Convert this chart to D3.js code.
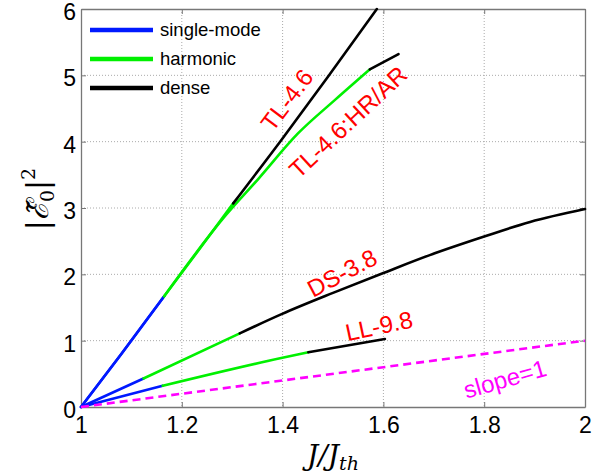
<!DOCTYPE html>
<html>
<head>
<meta charset="utf-8">
<script src="https://cdn.jsdelivr.net/npm/d3@7"></script>
<style>
	body { margin: 0; background: #fff; }
	svg { display: block; }
</style>
</head>
<body>
<svg id="chart" width="592" height="476"></svg>
<script>
// x ticks / y ticks
const xTicks = [1, 1.2, 1.4, 1.6, 1.8, 2];
const yTicks = [0, 1, 2, 3, 4, 5, 6];

// TL-4.6
const tlSingle = [[1, 0], [1.08, 0.8], [1.165, 1.67]];
const tlHarmonic = [[1.165, 1.67], [1.23, 2.33], [1.302, 3.07]];
const tlDense = [[1.302, 3.07], [1.398, 4.03], [1.49, 4.98], [1.587, 6.0]];

// TL-4.6:HR/AR
const hrSingle = [[1, 0], [1.08, 0.8], [1.165, 1.67]];
const hrHarmonic = [[1.165, 1.67], [1.286, 2.88], [1.352, 3.44], [1.43, 4.12], [1.504, 4.63], [1.573, 5.09]];
const hrDense = [[1.573, 5.09], [1.63, 5.32]];

// DS-3.8
const dsSingle = [[1, 0], [1.124, 0.43]];
const dsHarmonic = [[1.124, 0.43], [1.315, 1.11]];
const dsDense = [[1.315, 1.11], [1.398, 1.40], [1.5, 1.72], [1.6, 2.02], [1.692, 2.29], [1.8, 2.57], [1.891, 2.79], [2.0, 2.985]];

// LL-9.8
const llSingle = [[1, 0], [1.162, 0.32]];
const llHarmonic = [[1.162, 0.32], [1.395, 0.735], [1.451, 0.825]];
const llDense = [[1.451, 0.825], [1.603, 1.025]];

// slope=1 reference
const slopeOne = [[1, 0], [2, 1]];

const legendNames = ["single-mode", "harmonic", "dense"];

const COLORS = { single: "#0019ff", harmonic: "#00f000", dense: "#000" };

const svg = d3.select("#chart");
const M = { left: 81, right: 585, top: 9, bottom: 407 };

const x = d3.scaleLinear().domain([1, 2]).range([M.left, M.right]);
const y = d3.scaleLinear().domain([0, 6]).range([M.bottom, M.top]);

// grid
const grid = svg.append("g");
grid.selectAll(".gx").data(xTicks.slice(1, -1)).enter().append("line")
	.attr("x1", d => x(d)).attr("x2", d => x(d))
	.attr("y1", M.top).attr("y2", M.bottom)
	.attr("stroke", "#aaa").attr("stroke-width", 1).attr("stroke-dasharray", "1,2");
grid.selectAll(".gy").data(yTicks.slice(1, -1)).enter().append("line")
	.attr("y1", d => y(d)).attr("y2", d => y(d))
	.attr("x1", M.left).attr("x2", M.right)
	.attr("stroke", "#aaa").attr("stroke-width", 1).attr("stroke-dasharray", "1,2");

// axes (ticks inward)
const axFont = "'Liberation Sans', Arial, sans-serif";
const axBottom = svg.append("g").attr("transform", `translate(0,${M.bottom})`)
	.call(d3.axisBottom(x).tickValues(xTicks).tickFormat(d3.format("")).tickSizeInner(-5).tickSizeOuter(0).tickPadding(10));
const axLeft = svg.append("g").attr("transform", `translate(${M.left},0)`)
	.call(d3.axisLeft(y).tickValues(yTicks).tickFormat(d3.format("")).tickSizeInner(-5).tickSizeOuter(0).tickPadding(5));
const axTop = svg.append("g").attr("transform", `translate(0,${M.top})`)
	.call(d3.axisTop(x).tickValues(xTicks).tickFormat("").tickSizeInner(-5).tickSizeOuter(0));
const axRight = svg.append("g").attr("transform", `translate(${M.right},0)`)
	.call(d3.axisRight(y).tickValues(yTicks).tickFormat("").tickSizeInner(-5).tickSizeOuter(0));
[axBottom, axLeft, axTop, axRight].forEach(g => {
	g.select(".domain").attr("stroke", "#777").attr("stroke-width", 1.3);
	g.selectAll(".tick line").attr("stroke", "#777");
	g.selectAll("text").attr("font-family", axFont).attr("font-size", 23).attr("fill", "#000");
});
axBottom.selectAll("text").attr("dy", "0.71em");
axLeft.selectAll("text").attr("dy", "0.45em");

// curves
const line = d3.line().x(d => x(d[0])).y(d => y(d[1])).curve(d3.curveMonotoneX);
const curves = [
	[tlSingle, "single"], [hrSingle, "single"], [dsSingle, "single"], [llSingle, "single"],
	[tlHarmonic, "harmonic"], [hrHarmonic, "harmonic"], [dsHarmonic, "harmonic"], [llHarmonic, "harmonic"],
	[tlDense, "dense"], [hrDense, "dense"], [dsDense, "dense"], [llDense, "dense"]
];
const cg = svg.append("g");
cg.selectAll("path").data(curves).enter().append("path")
	.attr("d", d => line(d[0]))
	.attr("fill", "none")
	.attr("stroke", d => COLORS[d[1]])
	.attr("stroke-width", 2.6)
	.attr("stroke-linecap", "round");

cg.append("path").attr("d", d3.line().x(d => x(d[0])).y(d => y(d[1]))(slopeOne))
	.attr("fill", "none").attr("stroke", "#ff00ff")
	.attr("stroke-width", 2.6).attr("stroke-dasharray", "8,5");

// legend
const lg = svg.append("g");
const lkeys = ["single", "harmonic", "dense"];
legendNames.forEach((name, i) => {
	const ly = 30 + i * 29;
	lg.append("line").attr("x1", 90).attr("x2", 153).attr("y1", ly).attr("y2", ly)
		.attr("stroke", COLORS[lkeys[i]]).attr("stroke-width", 4.5);
	lg.append("text").attr("x", 160).attr("y", ly).attr("dy", "0.35em")
		.attr("font-family", axFont).attr("font-size", 18.5).text(name);
});

// annotations
const notes = [
	{ t: "TL-4.6", cx: 287, cy: 100, r: -53, c: "#ff0000" },
	{ t: "TL-4.6:HR/AR", cx: 348, cy: 122, r: -43, c: "#ff0000" },
	{ t: "DS-3.8", cx: 342, cy: 273, r: -28, c: "#ff0000" },
	{ t: "LL-9.8", cx: 379, cy: 326, r: -12, c: "#ff0000" },
	{ t: "slope=1", cx: 505, cy: 379, r: -16, c: "#ff00ff" }
];
svg.append("g").selectAll("text").data(notes).enter().append("text")
	.attr("transform", d => `translate(${d.cx},${d.cy}) rotate(${d.r})`)
	.attr("text-anchor", "middle").attr("dy", "0.35em")
	.attr("font-family", axFont).attr("font-size", 24)
	.attr("fill", d => d.c).text(d => d.t);

// axis labels
const xl = svg.append("text").attr("x", 333).attr("y", 465).attr("text-anchor", "middle")
	.attr("font-family", "'DejaVu Serif', 'Liberation Serif', serif").attr("font-style", "italic").attr("font-size", 28);
xl.append("tspan").text("J/J");
xl.append("tspan").attr("font-size", 19).attr("dy", 5).text("th");

const yl = svg.append("text").attr("transform", "translate(48,199) rotate(-90)").attr("text-anchor", "middle")
	.attr("font-family", "'DejaVu Serif', 'Liberation Serif', serif").attr("font-size", 30);
yl.append("tspan").text("|");
yl.append("tspan").attr("font-style", "italic").text("\u2130\u0303");
yl.append("tspan").attr("font-size", 19).attr("dy", 6).text("0");
yl.append("tspan").attr("dy", -6).text("|");
yl.append("tspan").attr("font-size", 19).attr("dy", -13).text("2");
</script>
</body>
</html>
